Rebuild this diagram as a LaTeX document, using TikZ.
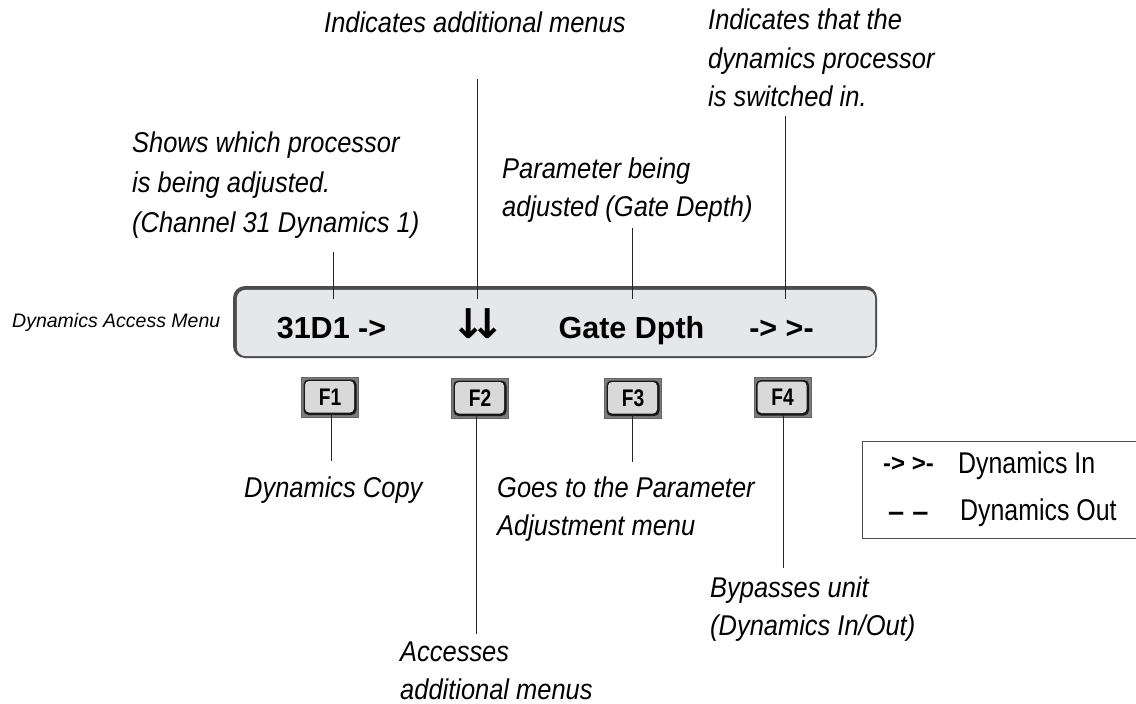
\documentclass[tikz,border=0pt]{standalone}
\usepackage{fontspec}
\setmainfont{Liberation Sans}
\newfontfamily\lblfont{Liberation Sans}[FakeStretch=0.89]
\newfontfamily\legfont{Liberation Sans}[FakeStretch=0.83]
\newfontfamily\keyfont{Liberation Sans}[FakeStretch=0.8]
\newfontfamily\arrowfont{DejaVu Sans}
\definecolor{dispfill}{HTML}{E6E7E8}
\definecolor{dispedge}{HTML}{4D4D4F}
\definecolor{keyouter}{HTML}{7D7D7D}
\definecolor{keyfill}{HTML}{D9D9D9}
\tikzset{
  lbl/.style={font={\lblfont\itshape\fontsize{28.6}{38.5}\selectfont}, inner sep=0pt, anchor=base west},
  disptext/.style={font={\bfseries\fontsize{30.5}{36}\selectfont}, anchor=base, inner xsep=0pt, inner ysep=17pt, text height=22pt, text depth=0pt},
  keybtn/.style={minimum width=57pt, minimum height=40pt, inner sep=0pt, fill=keyouter, draw=black!60, line width=0.6pt,
    font={\keyfont\bfseries\fontsize{24}{26}\selectfont}, text height=17pt, text depth=1pt,
    path picture={
      \fill[black!90, rounded corners=5pt] ([shift={(2pt,-2.5pt)}]path picture bounding box.north west) rectangle ([shift={(-2pt,2pt)}]path picture bounding box.south east);
      \fill[keyfill, rounded corners=4pt] ([shift={(3.5pt,-4pt)}]path picture bounding box.north west) rectangle ([shift={(-4.5pt,4.5pt)}]path picture bounding box.south east);
    }},
  conn/.style={draw=black!85, line width=1pt},
  legsym/.style={font={\bfseries\fontsize{24}{28}\selectfont}, inner sep=0pt, anchor=base west},
  legtxt/.style={font={\legfont\fontsize{30}{34}\selectfont}, inner sep=0pt, anchor=base west}
}
\begin{document}
\begin{tikzpicture}[x=1pt,y=-1pt]
\fill[white] (0,0) rectangle (1136,704);
\useasboundingbox (0,0) rectangle (1136,704);

% display
\node[fill=dispedge, rounded corners=12pt, minimum width=644pt, minimum height=72pt, inner sep=0pt] (disp) at (555,322) {};
\fill[dispfill, rounded corners=9pt] ([shift={(4pt,-4pt)}]disp.north west) rectangle ([shift={(-2pt,2pt)}]disp.south east);

\node[disptext] (d1) at (331.5,338) {31D1 ->};
\node[disptext] (d2) at (478,338) {{\arrowfont\bfseries\fontsize{41}{41}\selectfont ↓\kern-15pt↓}};
\node[disptext] (d3) at (631.5,338) {Gate Dpth};
\node[disptext] (d4) at (781.5,338) {-> >-};

% labels
\node[lbl] (lblAdd) at (324,32) {Indicates additional menus};
\node[lbl] (lblShows) at (132,152) {\vtop{\baselineskip=40pt\hbox{Shows which processor}\hbox{is being adjusted.}\hbox{(Channel 31 Dynamics 1)}}};
\node[lbl] (lblParam) at (502,178) {\vtop{\hbox{Parameter being}\hbox{adjusted (Gate Depth)}}};
\node[lbl] (lblSwitch) at (708,30) {\vtop{\hbox{Indicates that the}\hbox{dynamics processor}\hbox{is switched in.}}};
\node[lbl, font={\itshape\fontsize{19.5}{24}\selectfont}] (lblMenu) at (12,327) {Dynamics Access Menu};
\node[lbl] (lblCopy) at (244,497) {Dynamics Copy};
\node[lbl] (lblGoes) at (497,497) {\vtop{\hbox{Goes to the Parameter}\hbox{Adjustment menu}}};
\node[lbl] (lblAcc) at (400,661) {\vtop{\hbox{Accesses}\hbox{additional menus}}};
\node[lbl] (lblBypass) at (710,597) {\vtop{\hbox{Bypasses unit}\hbox{(Dynamics In/Out)}}};

% buttons
\node[keybtn] (b1) at (330,397) {F1};
\node[keybtn] (b2) at (480,398) {F2};
\node[keybtn] (b3) at (633,398) {F3};
\node[keybtn] (b4) at (782.5,397.5) {F4};

% connector free ends
\coordinate (e1) at (333,252);
\coordinate (e2) at (477,79);
\coordinate (e3) at (632,228);
\coordinate (e4) at (785,116);
\coordinate (f1) at (331,461);
\coordinate (f2) at (476,634);
\coordinate (f3) at (632,462);
\coordinate (f4) at (783,568);

\draw[conn] (e1) -- (e1 |- d1.north);
\draw[conn] (e2) -- (e2 |- d2.north);
\draw[conn] (e3) -- (e3 |- d3.north);
\draw[conn] (e4) -- (e4 |- d4.north);
\draw[conn] ([yshift=3pt]f1 |- b1.south) -- (f1);
\draw[conn] ([yshift=3pt]f2 |- b2.south) -- (f2);
\draw[conn] ([yshift=3pt]f3 |- b3.south) -- (f3);
\draw[conn] ([yshift=3pt]f4 |- b4.south) -- (f4);

% legend
\node[draw=black!70, line width=1pt, minimum width=290pt, minimum height=97pt, anchor=north west, inner sep=0pt] (legend) at (862,441) {};
\node[legsym] (lgInSym) at (883,471) {-> >-};
\node[legtxt] (lgIn) at (958,473) {Dynamics In};
\node[legsym, font={\bfseries\fontsize{29}{30}\selectfont}] (lgOutSym) at (888,521) {– –};
\node[legtxt] (lgOut) at (960,520) {Dynamics Out};
\end{tikzpicture}
\end{document}
